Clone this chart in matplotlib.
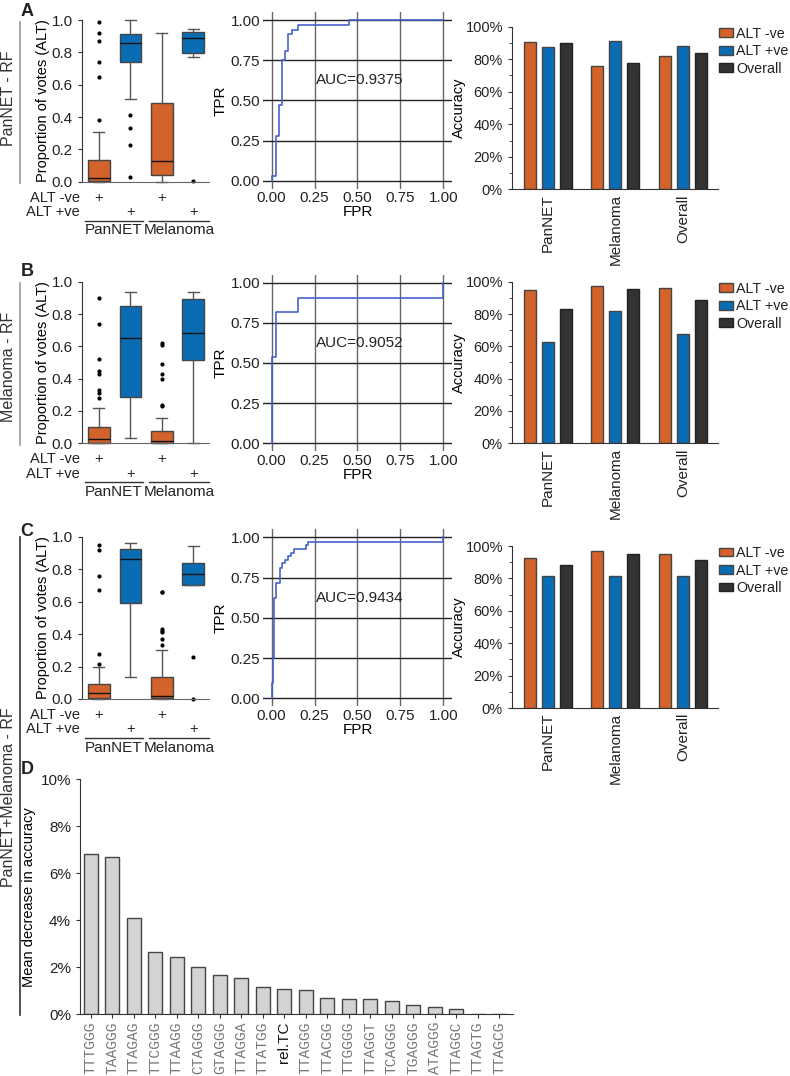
import numpy as np
import matplotlib.pyplot as plt
from matplotlib.lines import Line2D
from matplotlib.ticker import MultipleLocator, PercentFormatter

plt.rcParams['font.family'] = ['Liberation Sans', 'DejaVu Sans']
plt.rcParams.update({'font.size': 10.5, 'axes.edgecolor': '#333333', 'text.color': '#222222',
                     'xtick.color': '#333333', 'ytick.color': '#333333',
                     'xtick.labelcolor': '#222222', 'ytick.labelcolor': '#222222'})

orange = '#d4622b'
blue = '#0a6db3'
dark = '#333333'

### box plots (rows A, B, C ; boxes: PanNET -ve, PanNET +ve, Melanoma -ve, Melanoma +ve)
box_med = [[0.02, 0.855, 0.128, 0.887],
           [0.025, 0.654, 0.014, 0.68],
           [0.035, 0.86, 0.02, 0.77]]
box_q1 = [[0.006, 0.738, 0.041, 0.794],
          [0.004, 0.285, 0.0, 0.515],
          [0.008, 0.589, 0.004, 0.702]]
box_q3 = [[0.134, 0.913, 0.485, 0.928],
          [0.103, 0.85, 0.076, 0.895],
          [0.09, 0.922, 0.134, 0.838]]
box_lo = [[0.0, 0.513, 0.0, 0.773],
          [0.0, 0.035, 0.0, 0.0],
          [0.0, 0.133, 0.0, 0.70]]
box_hi = [[0.305, 1.0, 0.918, 0.942],
          [0.216, 0.936, 0.155, 0.936],
          [0.199, 0.963, 0.304, 0.94]]
box_fliers = [[[0.99, 0.92, 0.87, 0.74, 0.65, 0.38], [0.41, 0.33, 0.23, 0.03], [], [0.004]],
              [[0.90, 0.74, 0.52, 0.45, 0.43, 0.33, 0.31, 0.28], [],
               [0.62, 0.61, 0.49, 0.43, 0.40, 0.24, 0.23], []],
              [[0.95, 0.92, 0.76, 0.67, 0.275, 0.214], [],
               [0.66, 0.66, 0.43, 0.42, 0.41, 0.37, 0.33], [0.257, 0.0]]]

### ROC curves
roc_fpr = [[0, 0, 0.025, 0.043, 0.062, 0.078, 0.097, 0.117, 0.153, 0.45, 1.0],
           [0, 0, 0.027, 0.156, 1.0, 1.0],
           [0, 0, 0.008, 0.016, 0.023, 0.047, 0.059, 0.078, 0.098, 0.113, 0.129, 0.199, 0.209, 1.0, 1.0]]
roc_tpr = [[0, 0.03, 0.28, 0.47, 0.75, 0.81, 0.91, 0.94, 0.97, 1.0, 1.0],
           [0, 0.54, 0.815, 0.907, 0.907, 1.0],
           [0, 0.093, 0.253, 0.625, 0.718, 0.81, 0.838, 0.859, 0.884, 0.905, 0.928, 0.95, 0.973, 0.973, 1.0]]
auc_text = ['AUC=0.9375', 'AUC=0.9052', 'AUC=0.9434']

### accuracy bars
acc_groups = ['PanNET', 'Melanoma', 'Overall']
acc_neg = [[90.6, 75.6, 82.0], [94.8, 97.5, 96.1], [92.5, 97.0, 95.2]]
acc_pos = [[87.5, 91.0, 88.3], [62.9, 82.1, 67.6], [81.3, 81.6, 81.3]]
acc_all = [[89.8, 77.9, 84.0], [82.9, 95.5, 88.9], [88.3, 95.0, 91.5]]

### variable importance (panel D)
imp_labels = ['TTTGGG', 'TAAGGG', 'TTAGAG', 'TTCGGG', 'TTAAGG', 'CTAGGG', 'GTAGGG', 'TTAGGA',
              'TTATGG', 'rel.TC', 'TTAGGG', 'TTACGG', 'TTGGGG', 'TTAGGT', 'TCAGGG', 'TGAGGG',
              'ATAGGG', 'TTAGGC', 'TTAGTG', 'TTAGCG']
imp_values = [6.81, 6.71, 4.09, 2.65, 2.45, 2.03, 1.66, 1.55, 1.18, 1.09, 1.04, 0.70,
              0.67, 0.64, 0.55, 0.41, 0.30, 0.24, 0.0, 0.0]

row_names = ['PanNET - RF', 'Melanoma - RF', 'PanNET+Melanoma - RF']

W, H = 790, 1076
fig = plt.figure(figsize=(W / 100, H / 100), dpi=100)


def px_axes(l, t, r, b):
    return fig.add_axes([l / W, 1 - b / H, (r - l) / W, (b - t) / H])


box_rects = [(82, 20, 209, 181.7), (82, 281.7, 209, 443.3), (82, 536.7, 209, 699)]
roc_rects = [(263, 12, 452, 188.7), (263, 274.7, 452, 451.3), (263, 529.3, 452, 706.3)]
bar_rects = [(512, 26.7, 718, 189.3), (512, 281.7, 718, 443.3), (512, 546, 718, 708)]

for r in range(3):
    # --- box plot
    ax = px_axes(*box_rects[r])
    stats = []
    for i in range(4):
        stats.append(dict(med=box_med[r][i], q1=box_q1[r][i], q3=box_q3[r][i],
                          whislo=box_lo[r][i], whishi=box_hi[r][i], fliers=box_fliers[r][i]))
    bp = ax.bxp(stats, positions=[1, 2, 3, 4], widths=0.69, capwidths=0.35, patch_artist=True,
                boxprops=dict(edgecolor='#444444', linewidth=1),
                whiskerprops=dict(color='#555555', linewidth=1),
                capprops=dict(color='#555555', linewidth=1),
                medianprops=dict(color='#111111', linewidth=1),
                flierprops=dict(marker='o', markersize=2, markerfacecolor='k', markeredgecolor='k'))
    for patch, c in zip(bp['boxes'], [orange, blue, orange, blue]):
        patch.set_facecolor(c)
    for k in bp:
        for art in bp[k]:
            art.set_clip_on(False)
    ax.set_xlim(0.46, 4.5)
    ax.set_ylim(0, 1)
    ax.set_yticks(np.arange(0, 1.01, 0.2))
    ax.yaxis.set_major_formatter(plt.FormatStrFormatter('%.1f'))
    ax.set_xticks([])
    ax.spines['top'].set_visible(False)
    ax.spines['right'].set_visible(False)
    ax.spines['bottom'].set_color('#666666')
    ax.tick_params(axis='y', length=3, labelsize=11)
    ax.set_ylabel('Proportion of votes (ALT)', labelpad=1)
    tr = ax.get_xaxis_transform()
    ax.text(0.40, -0.10, 'ALT -ve', transform=tr, ha='right', va='center', clip_on=False)
    ax.text(0.40, -0.187, 'ALT +ve', transform=tr, ha='right', va='center', clip_on=False)
    for xp in [1, 3]:
        ax.text(xp, -0.10, '+', transform=tr, ha='center', va='center')
    for xp in [2, 4]:
        ax.text(xp, -0.187, '+', transform=tr, ha='center', va='center')
    for x0, x1, lab in [(0.55, 2.4, 'PanNET'), (2.6, 4.5, 'Melanoma')]:
        ax.add_line(Line2D([x0, x1], [-0.241, -0.241], transform=tr, color='#333333',
                           linewidth=1, clip_on=False))
        ax.text((x0 + x1) / 2, -0.30, lab, transform=tr, ha='center', va='center', fontsize=11)

    # --- ROC
    ax = px_axes(*roc_rects[r])
    ax.plot(roc_fpr[r], roc_tpr[r], drawstyle='steps-post', color='#4563c9', linewidth=1.2, zorder=3)
    ax.set_xlim(-0.05, 1.05)
    ax.set_ylim(-0.05, 1.05)
    ax.set_xticks([0, 0.25, 0.5, 0.75, 1.0])
    ax.set_yticks([0, 0.25, 0.5, 0.75, 1.0])
    ax.xaxis.set_major_formatter(plt.FormatStrFormatter('%.2f'))
    ax.yaxis.set_major_formatter(plt.FormatStrFormatter('%.2f'))
    ax.xaxis.grid(True, color='#666666', linewidth=1)
    ax.yaxis.grid(True, color='#222222', linewidth=1)
    ax.set_axisbelow(True)
    for s in ax.spines.values():
        s.set_visible(False)
    ax.tick_params(length=0, pad=2, labelsize=11)
    ax.set_xlabel('FPR', labelpad=0, fontsize=11)
    ax.set_ylabel('TPR', labelpad=2, fontsize=11)
    ax.text(0.258, 0.625, auc_text[r], va='center', ha='left', fontsize=11)

    # --- accuracy bars
    ax = px_axes(*bar_rects[r])
    x = np.arange(3)
    ax.bar(x - 0.267, acc_neg[r], 0.178, color=orange, edgecolor='#444444', linewidth=1, label='ALT -ve')
    ax.bar(x, acc_pos[r], 0.178, color=blue, edgecolor='#444444', linewidth=1, label='ALT +ve')
    ax.bar(x + 0.267, acc_all[r], 0.178, color=dark, edgecolor='#222222', linewidth=1, label='Overall')
    ax.set_xlim(-0.533, 2.52)
    ax.set_ylim(0, 100)
    ax.yaxis.set_major_locator(MultipleLocator(20))
    ax.yaxis.set_minor_locator(MultipleLocator(10))
    ax.yaxis.set_major_formatter(PercentFormatter(decimals=0))
    ax.set_xticks(x)
    ax.set_xticklabels(acc_groups, rotation=90, fontsize=11)
    ax.tick_params(axis='x', length=0)
    ax.tick_params(axis='y', which='major', length=3, labelsize=10.5)
    ax.tick_params(axis='y', which='minor', length=2)
    ax.spines['top'].set_visible(False)
    ax.spines['right'].set_visible(False)
    ax.set_ylabel('Accuracy', labelpad=0)
    ax.legend(loc='upper left', bbox_to_anchor=(1.005, 1.0), frameon=False, borderaxespad=0,
              borderpad=0, handlelength=0.95, handleheight=0.55, handletextpad=0.25,
              labelspacing=0.25, fontsize=10.3)

# --- row labels with vertical lines
row_lines = [(22, 183, '#999999'), (283, 445, '#999999'), (537, 1015, '#333333')]
row_text_y = [98, 367, 797]
for (y0, y1, c), ty, name in zip(row_lines, row_text_y, row_names):
    fig.add_artist(Line2D([20 / W, 20 / W], [1 - y0 / H, 1 - y1 / H], color=c, linewidth=1.2))
    fig.text(9 / W, 1 - ty / H, name, rotation=90, ha='center', va='center', fontsize=11.5,
             color='#333333')

# --- panel letters
for lab, ly in [('A', 12), ('B', 271), ('C', 531), ('D', 769)]:
    fig.text(27 / W, 1 - ly / H, lab, ha='center', va='center', fontsize=13, fontweight='bold')

# --- panel D
ax = px_axes(80, 779.3, 513, 1014.3)
xi = np.arange(len(imp_labels))
ax.bar(xi, imp_values, 0.65, color='#d3d3d3', edgecolor='#444444', linewidth=1)
ax.set_xlim(-0.51, 19.63)
ax.set_ylim(0, 10)
ax.yaxis.set_major_locator(MultipleLocator(2))
ax.yaxis.set_major_formatter(PercentFormatter(decimals=0))
ax.set_xticks(xi)
ax.set_xticklabels(imp_labels, rotation=90)
for t in ax.get_xticklabels():
    if t.get_text() == 'rel.TC':
        t.set_color('#111111')
        t.set_fontsize(11)
    else:
        t.set_family(['Liberation Mono', 'DejaVu Sans Mono'])
        t.set_color('#777777')
        t.set_fontsize(10.5)
ax.tick_params(axis='x', length=3, pad=2)
ax.tick_params(axis='y', length=3, labelsize=11)
ax.spines['top'].set_visible(False)
ax.spines['right'].set_visible(False)
ax.set_ylabel('Mean decrease in accuracy', labelpad=3)

fig.savefig('out.png', dpi=100)
